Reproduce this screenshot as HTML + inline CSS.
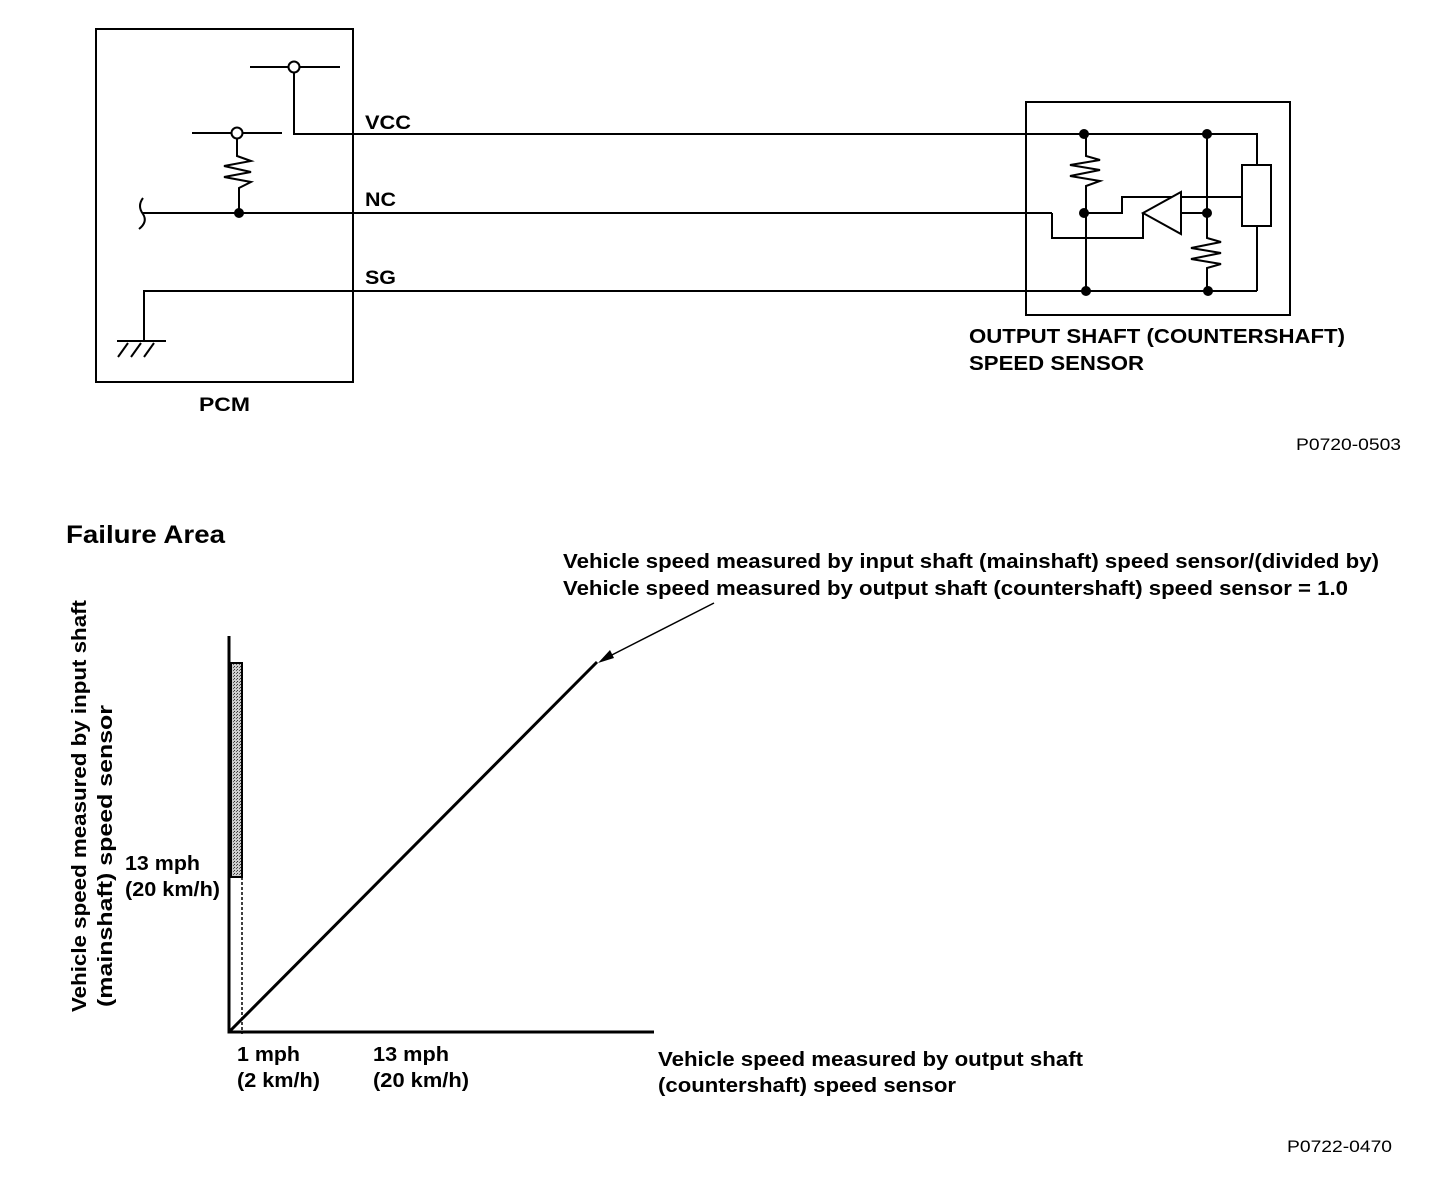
<!DOCTYPE html>
<html><head><style>
body{margin:0;background:#fff;width:1440px;height:1178px;overflow:hidden}
svg text{font-family:"Liberation Sans",Arial,sans-serif;font-weight:bold;fill:#000}
</style></head><body>
<svg width="1440" height="1178" viewBox="0 0 1440 1178" xmlns="http://www.w3.org/2000/svg">
<defs><pattern id="p" width="3" height="3" patternUnits="userSpaceOnUse"><rect width="3" height="3" fill="#ccc"/><rect width="1" height="1" fill="#333"/><rect x="2" y="1" width="1" height="1" fill="#555"/></pattern></defs>
<g stroke="#000" stroke-width="2" fill="none">
<rect x="96" y="29" width="257" height="353"/>
<line x1="250" y1="67" x2="340" y2="67"/><circle cx="294" cy="67" r="5.5" fill="#fff"/>
<polyline points="294,73 294,134 1084,134"/>
<line x1="192" y1="133" x2="282" y2="133"/><circle cx="237" cy="133" r="5.5" fill="#fff"/>
<polyline points="237,139 237,156 251,161 224,166 251,172 224,177 251,182 239,188 239,213"/>
<path d="M143,198 Q137,206 143,214 Q148,222 139,229"/>
<line x1="143" y1="213" x2="1052" y2="213"/>
<polyline points="1052,213 1052,238 1143,238 1143,213"/>
<polyline points="144,342 144,291 1257,291"/>
<line x1="117" y1="341" x2="166" y2="341"/>
<line x1="128" y1="343" x2="118" y2="357"/><line x1="141" y1="343" x2="131" y2="357"/><line x1="154" y1="343" x2="144" y2="357"/>
<rect x="1026" y="102" width="264" height="213"/>
<polyline points="1084,134 1257,134 1257,165"/>
<rect x="1242" y="165" width="29" height="61"/>
<polyline points="1257,226 1257,291"/>
<polyline points="1086,134 1086,156 1100,160 1070,165 1100,170 1070,176 1100,181 1086,186 1086,291"/>
<polyline points="1084,213 1122,213 1122,197 1181,197"/>
<line x1="1181" y1="197" x2="1242" y2="197"/>
<polygon points="1143,213 1181,192 1181,234" fill="#fff"/>
<line x1="1181" y1="213" x2="1207" y2="213"/>
<polyline points="1207,134 1207,238 1221,242 1191,248 1221,253 1191,259 1221,264 1207,268 1207,291"/>
</g>
<g fill="#000">
<circle cx="239" cy="213" r="5"/>
<circle cx="1084" cy="134" r="5"/><circle cx="1207" cy="134" r="5"/>
<circle cx="1084" cy="213" r="5"/><circle cx="1207" cy="213" r="5"/>
<circle cx="1086" cy="291" r="5"/><circle cx="1208" cy="291" r="5"/>
</g>
<text x="365" y="129" font-size="19" textLength="46" lengthAdjust="spacingAndGlyphs">VCC</text>
<text x="365" y="206" font-size="19" textLength="31" lengthAdjust="spacingAndGlyphs">NC</text>
<text x="365" y="284" font-size="19" textLength="31" lengthAdjust="spacingAndGlyphs">SG</text>
<text x="199" y="411" font-size="19" textLength="51" lengthAdjust="spacingAndGlyphs">PCM</text>
<text x="969" y="343" font-size="20" textLength="376" lengthAdjust="spacingAndGlyphs">OUTPUT SHAFT (COUNTERSHAFT)</text>
<text x="969" y="370" font-size="20" textLength="175" lengthAdjust="spacingAndGlyphs">SPEED SENSOR</text>
<text x="1296" y="450" font-size="17" style="font-weight:normal" textLength="105" lengthAdjust="spacingAndGlyphs">P0720-0503</text>
<text x="66" y="543" font-size="25" textLength="159" lengthAdjust="spacingAndGlyphs">Failure Area</text>
<text x="563" y="568" font-size="20" textLength="816" lengthAdjust="spacingAndGlyphs">Vehicle speed measured by input shaft (mainshaft) speed sensor/(divided by)</text>
<text x="563" y="595" font-size="20" textLength="785" lengthAdjust="spacingAndGlyphs">Vehicle speed measured by output shaft (countershaft) speed sensor = 1.0</text>
<rect x="231" y="663" width="11" height="214" fill="url(#p)" stroke="#000" stroke-width="2"/>
<line x1="242" y1="877" x2="242" y2="1034" stroke="#000" stroke-width="1.5" stroke-dasharray="3,2"/>
<g stroke="#000" stroke-width="3" fill="none">
<polyline points="229,636 229,1032 654,1032"/>
<line x1="229" y1="1032" x2="597" y2="662"/>
</g>
<line x1="714" y1="603" x2="602" y2="660" stroke="#000" stroke-width="1.5"/>
<polygon points="598,663 610,650 614,658" fill="#000"/>
<text transform="translate(86,1012) rotate(-90)" font-size="20" textLength="412" lengthAdjust="spacingAndGlyphs">Vehicle speed measured by input shaft</text>
<text transform="translate(112,1007) rotate(-90)" font-size="20" textLength="302" lengthAdjust="spacingAndGlyphs">(mainshaft) speed sensor</text>
<text x="125" y="870" font-size="20" textLength="75" lengthAdjust="spacingAndGlyphs">13 mph</text>
<text x="125" y="896" font-size="20" textLength="95" lengthAdjust="spacingAndGlyphs">(20 km/h)</text>
<text x="237" y="1061" font-size="20" textLength="63" lengthAdjust="spacingAndGlyphs">1 mph</text>
<text x="237" y="1087" font-size="20" textLength="83" lengthAdjust="spacingAndGlyphs">(2 km/h)</text>
<text x="373" y="1061" font-size="20" textLength="76" lengthAdjust="spacingAndGlyphs">13 mph</text>
<text x="373" y="1087" font-size="20" textLength="96" lengthAdjust="spacingAndGlyphs">(20 km/h)</text>
<text x="658" y="1066" font-size="20" textLength="425" lengthAdjust="spacingAndGlyphs">Vehicle speed measured by output shaft</text>
<text x="658" y="1092" font-size="20" textLength="298" lengthAdjust="spacingAndGlyphs">(countershaft) speed sensor</text>
<text x="1287" y="1152" font-size="17" style="font-weight:normal" textLength="105" lengthAdjust="spacingAndGlyphs">P0722-0470</text>
</svg>
</body></html>
